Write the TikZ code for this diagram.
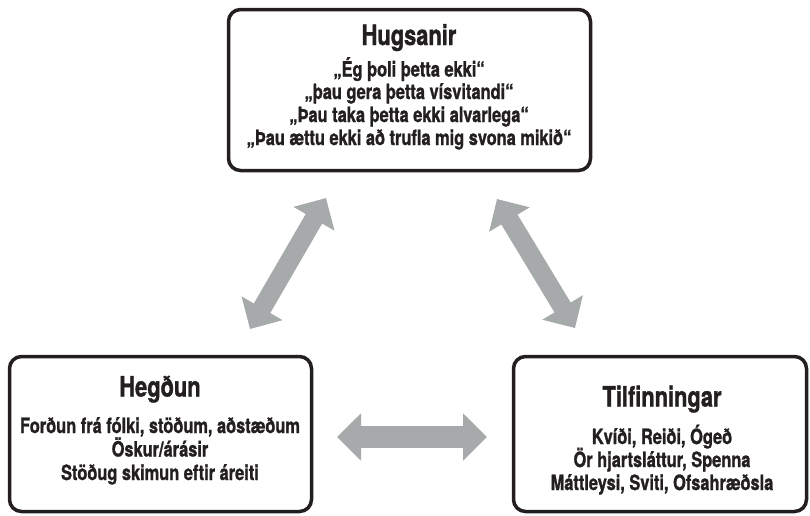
\documentclass[tikz,border=0pt]{standalone}
\usepackage{fontspec}
\setmainfont{TeX Gyre Heros}[FakeStretch=0.78, BoldFeatures={FakeBold=1.2}]
\usetikzlibrary{arrows.meta}
\definecolor{arrowgray}{HTML}{A7AAAB}
\definecolor{ink}{HTML}{231F20}
\tikzset{
  boxstyle/.style={draw=ink, line width=3.5pt, rounded corners=12pt, inner sep=0pt},
  titletext/.style={anchor=base, inner sep=0pt, text=ink, font=\fontsize{28}{30}\selectfont\bfseries},
  bodytext/.style={anchor=base, inner sep=0pt, text=ink, font=\fontsize{21}{23}\selectfont\bfseries},
  bigarrow/.style={draw=arrowgray, line width=#1,
    {Triangle[width=46pt,length=24pt]}-{Triangle[width=46pt,length=24pt]}},
}
\begin{document}
\begin{tikzpicture}[x=1pt,y=-1pt]
\useasboundingbox (0,0) rectangle (810,515);
% boxes
\node[boxstyle, minimum width=362pt, minimum height=161pt] (top) at (409.5,90) {};
\node[boxstyle, minimum width=302pt, minimum height=155pt] (left) at (160.5,434) {};
\node[boxstyle, minimum width=293pt, minimum height=155pt] (right) at (660,434) {};
% top texts
\node[titletext] (t0) at (409,45) {Hugsanir};
\node[bodytext] (t1) at (409,76.5) {„Ég þoli þetta ekki“};
\node[bodytext] (t2) at (409,99) {„þau gera þetta vísvitandi“};
\node[bodytext] (t3) at (409,122) {„Þau taka þetta ekki alvarlega“};
\node[bodytext] (t4) at (409,145) {„Þau ættu ekki að trufla mig svona mikið“};
% left texts
\node[titletext] (l0) at (160,396.5) {Hegðun};
\node[bodytext] (l1) at (160,433) {Forðun frá fólki, stöðum, aðstæðum};
\node[bodytext] (l2) at (160,456.5) {Öskur/árásir};
\node[bodytext] (l3) at (160,480) {Stöðug skimun eftir áreiti};
% right texts
\node[titletext] (r0) at (662,406.5) {Tilfinningar};
\node[bodytext] (r1) at (662,444) {Kvíði, Reiði, Ógeð};
\node[bodytext] (r2) at (662,467) {Ör hjartsláttur, Spenna};
\node[bodytext] (r3) at (662,490) {Máttleysi, Sviti, Ofsahræðsla};
% arrow end points
\coordinate (a1s) at (250,329);
\coordinate (a1e) at (326,198);
\coordinate (a2s) at (497,199);
\coordinate (a2e) at (575,328);
\coordinate (a3s) at (337,437);
\coordinate (a3e) at (487,437);
\draw[bigarrow=19pt] (a1s) -- (a1e);
\draw[bigarrow=19pt] (a2s) -- (a2e);
\draw[bigarrow=22pt] (a3s) -- (a3e);
\end{tikzpicture}
\end{document}
